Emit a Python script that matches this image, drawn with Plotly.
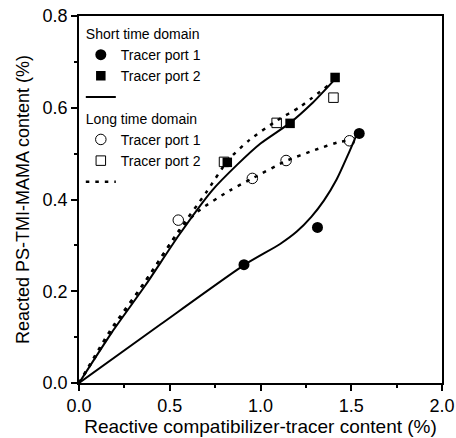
import plotly.graph_objects as go

# ---- measured points ----
short_p1_x = [0.909, 1.314, 1.544]
short_p1_y = [0.258, 0.339, 0.544]
short_p2_x = [0.817, 1.163, 1.411]
short_p2_y = [0.481, 0.566, 0.666]
long_p1_x = [0.547, 0.955, 1.141, 1.490]
long_p1_y = [0.355, 0.446, 0.485, 0.528]
long_p2_x = [0.799, 1.089, 1.402]
long_p2_y = [0.482, 0.567, 0.622]

# ---- fitted curves ----
fit_short_p1_x = [0, 0.45, 0.909, 1.108, 1.20, 1.28, 1.35, 1.42, 1.485, 1.525]
fit_short_p1_y = [0, 0.128, 0.257, 0.303, 0.330, 0.362, 0.398, 0.444, 0.500, 0.537]
fit_short_p2_x = [0, 0.182, 0.366, 0.550, 0.734, 0.872, 1.0, 1.163, 1.28, 1.41]
fit_short_p2_y = [0, 0.111, 0.213, 0.322, 0.420, 0.476, 0.522, 0.567, 0.608, 0.662]
fit_long_p2_x = [0, 0.173, 0.366, 0.55, 0.70, 0.822, 0.94, 1.09, 1.218, 1.374]
fit_long_p2_y = [0, 0.115, 0.222, 0.332, 0.415, 0.486, 0.530, 0.572, 0.602, 0.649]
fit_long_p1_x = [0, 0.2, 0.4, 0.55, 0.651, 0.832, 0.955, 1.141, 1.30, 1.439, 1.49]
fit_long_p1_y = [0, 0.125, 0.242, 0.33, 0.373, 0.420, 0.446, 0.484, 0.508, 0.526, 0.528]

x_ticks = [0.0, 0.5, 1.0, 1.5, 2.0]
x_tick_labels = ["0.0", "0.5", "1.0", "1.5", "2.0"]
y_ticks = [0.0, 0.2, 0.4, 0.6, 0.8]
y_tick_labels = ["0.0", "0.2", "0.4", "0.6", "0.8"]

group_short = "Short time domain"
group_long = "Long time domain"
name_p1 = "Tracer port 1"
name_p2 = "Tracer port 2"

FONT = "Liberation Sans, Arial, Helvetica, sans-serif"
DOT = "3.5px,6px"
SPLINE = dict(shape="spline", smoothing=0.6)

fig = go.Figure()

# Short time domain group
fig.add_trace(go.Scatter(x=short_p1_x, y=short_p1_y, mode="markers", name=name_p1,
                         legendgroup="short", legendgrouptitle_text=group_short,
                         marker=dict(symbol="circle", size=11, color="black"), cliponaxis=False))
fig.add_trace(go.Scatter(x=short_p2_x, y=short_p2_y, mode="markers", name=name_p2,
                         legendgroup="short",
                         marker=dict(symbol="square", size=9.5, color="black"), cliponaxis=False))
fig.add_trace(go.Scatter(x=fit_short_p2_x, y=fit_short_p2_y, mode="lines", name=" ",
                         legendgroup="short",
                         line=dict(color="black", width=2, **SPLINE)))
fig.add_trace(go.Scatter(x=fit_short_p1_x, y=fit_short_p1_y, mode="lines", showlegend=False,
                         legendgroup="short",
                         line=dict(color="black", width=2, **SPLINE)))

# Long time domain group
fig.add_trace(go.Scatter(x=long_p1_x, y=long_p1_y, mode="markers", name=name_p1,
                         legendgroup="long", legendgrouptitle_text=group_long,
                         marker=dict(symbol="circle-open", size=10.5, color="black",
                                     line=dict(width=1)), cliponaxis=False))
fig.add_trace(go.Scatter(x=long_p2_x, y=long_p2_y, mode="markers", name=name_p2,
                         legendgroup="long",
                         marker=dict(symbol="square-open", size=9.5, color="black",
                                     line=dict(width=1)), cliponaxis=False))
fig.add_trace(go.Scatter(x=fit_long_p2_x, y=fit_long_p2_y, mode="lines", name=" ",
                         legendgroup="long",
                         line=dict(color="black", width=2.5, dash=DOT, **SPLINE)))
fig.add_trace(go.Scatter(x=fit_long_p1_x, y=fit_long_p1_y, mode="lines", showlegend=False,
                         legendgroup="long",
                         line=dict(color="black", width=2.5, dash=DOT, **SPLINE)))

axis_common = dict(
    showline=True, linecolor="black", linewidth=1.5, mirror=True,
    ticks="outside", tickcolor="black", tickwidth=1.5, ticklen=6,
    showgrid=False, zeroline=False, automargin=False,
    tickfont=dict(family=FONT, size=18, color="black"),
)

fig.update_layout(
    width=456, height=438,
    margin=dict(l=79, r=14, t=16, b=55),
    paper_bgcolor="white", plot_bgcolor="white",
    font=dict(family=FONT, color="black"),
    xaxis=dict(range=[0, 2], tickvals=x_ticks, ticktext=x_tick_labels,
               minor=dict(dtick=0.25, ticks="outside", ticklen=3, tickcolor="black", tickwidth=1.5),
               title=dict(text="Reactive compatibilizer-tracer content (%)",
                          font=dict(family=FONT, size=19), standoff=1),
               **axis_common),
    yaxis=dict(range=[0, 0.8], tickvals=y_ticks, ticktext=y_tick_labels,
               minor=dict(dtick=0.1, ticks="outside", ticklen=3, tickcolor="black", tickwidth=1.5),
               title=dict(text="Reacted PS-TMI-MAMA content (%)",
                          font=dict(family=FONT, size=18), standoff=8),
               **axis_common),
    legend=dict(x=0.005, y=0.995, xanchor="left", yanchor="top",
                font=dict(family=FONT, size=14, color="black"),
                grouptitlefont=dict(family=FONT, size=14, color="black"),
                bgcolor="rgba(0,0,0,0)", tracegroupgap=0, traceorder="grouped"),
    showlegend=True,
)

fig.write_html("out.html", config={"displayModeBar": False},
               post_script="document.body.style.margin='0px';")
